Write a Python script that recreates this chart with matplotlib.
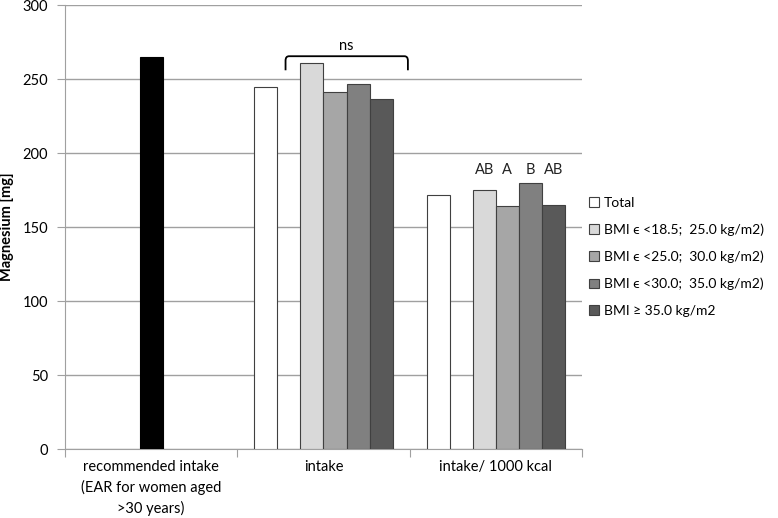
import numpy as np
import matplotlib.pyplot as plt
from matplotlib.path import Path
from matplotlib.patches import PathPatch

plt.rcParams['font.family'] = ['Lato', 'DejaVu Sans']

categories = ['recommended intake\n(EAR for women aged\n>30 years)', 'intake', 'intake/ 1000 kcal']
recommended = 265
series_names = ['Total', 'BMI \u03f5 <18.5;  25.0 kg/m2)', 'BMI \u03f5 <25.0;  30.0 kg/m2)',
                'BMI \u03f5 <30.0;  35.0 kg/m2)', 'BMI \u2265 35.0 kg/m2']
intake = [245, 261, 241.5, 246.5, 236.5]
intake_kcal = [172, 175, 164, 180, 165]
letters = ['', 'AB', 'A', 'B', 'AB']
colors = ['#ffffff', '#d9d9d9', '#a6a6a6', '#808080', '#595959']
slots = [0, 2, 3, 4, 5]

fig = plt.figure(figsize=(7.78, 5.18), dpi=100)
ax = fig.add_axes([0.0835, 0.1332, 0.6645, 0.8568])

w = 0.134
edge = '#404040'
ax.bar(0, recommended, w, color='black', edgecolor='black', linewidth=0.8, zorder=3)
for i in range(5):
    off = (slots[i] - 2.5) * w
    ax.bar(1 + off, intake[i], w, color=colors[i], edgecolor=edge, linewidth=0.8, zorder=3,
           label=series_names[i])
    ax.bar(2 + off, intake_kcal[i], w, color=colors[i], edgecolor=edge, linewidth=0.8, zorder=3)
    if letters[i]:
        ax.text(2 + off, 184, letters[i], ha='center', va='bottom', fontsize=10.5, color='#222222')

# bracket over intake group
x0, x1, ytop, ybot = 0.78, 1.49, 265.5, 256
verts = [(x0, ybot), (x0, ytop - 3), (x0, ytop), (x0 + 0.02, ytop), (x1 - 0.02, ytop),
         (x1, ytop), (x1, ytop - 3), (x1, ybot)]
codes = [Path.MOVETO, Path.LINETO, Path.CURVE3, Path.CURVE3, Path.LINETO,
         Path.CURVE3, Path.CURVE3, Path.LINETO]
ax.add_patch(PathPatch(Path(verts, codes), fill=False, lw=1.3, color='black', zorder=4))
ax.text(1.13, 268, 'ns', ha='center', va='bottom', fontsize=10.5)

ax.set_xlim(-0.5, 2.5)
ax.set_ylim(0, 300)
ax.set_yticks(np.arange(0, 301, 50))
ax.yaxis.grid(True, color='#a0a0a0', linewidth=1)
ax.set_axisbelow(True)
ax.set_xticks([-0.5, 0.5, 1.5, 2.5])
ax.set_xticklabels([])
ax.set_xticks([0, 1, 2], minor=True)
ax.set_xticklabels(categories, minor=True, fontsize=10.5, linespacing=1.5)
ax.tick_params(axis='x', which='minor', length=0, pad=8)
ax.tick_params(axis='x', which='major', length=6, color='#a0a0a0')
ax.tick_params(axis='y', length=6, color='#a0a0a0', labelsize=10.5, pad=6)
for s in ['top', 'right']:
    ax.spines[s].set_visible(False)
for s in ['left', 'bottom']:
    ax.spines[s].set_color('#a0a0a0')
ax.set_ylabel('Magnesium [mg]', fontsize=10.5, fontweight='bold', labelpad=6)

fig.legend(loc='upper left', bbox_to_anchor=(0.757, 0.620), frameon=False, fontsize=10,
           handlelength=0.7, handleheight=0.7, handletextpad=0.35, labelspacing=1.05,
           borderaxespad=0, borderpad=0)

fig.savefig('out.png', dpi=100)
